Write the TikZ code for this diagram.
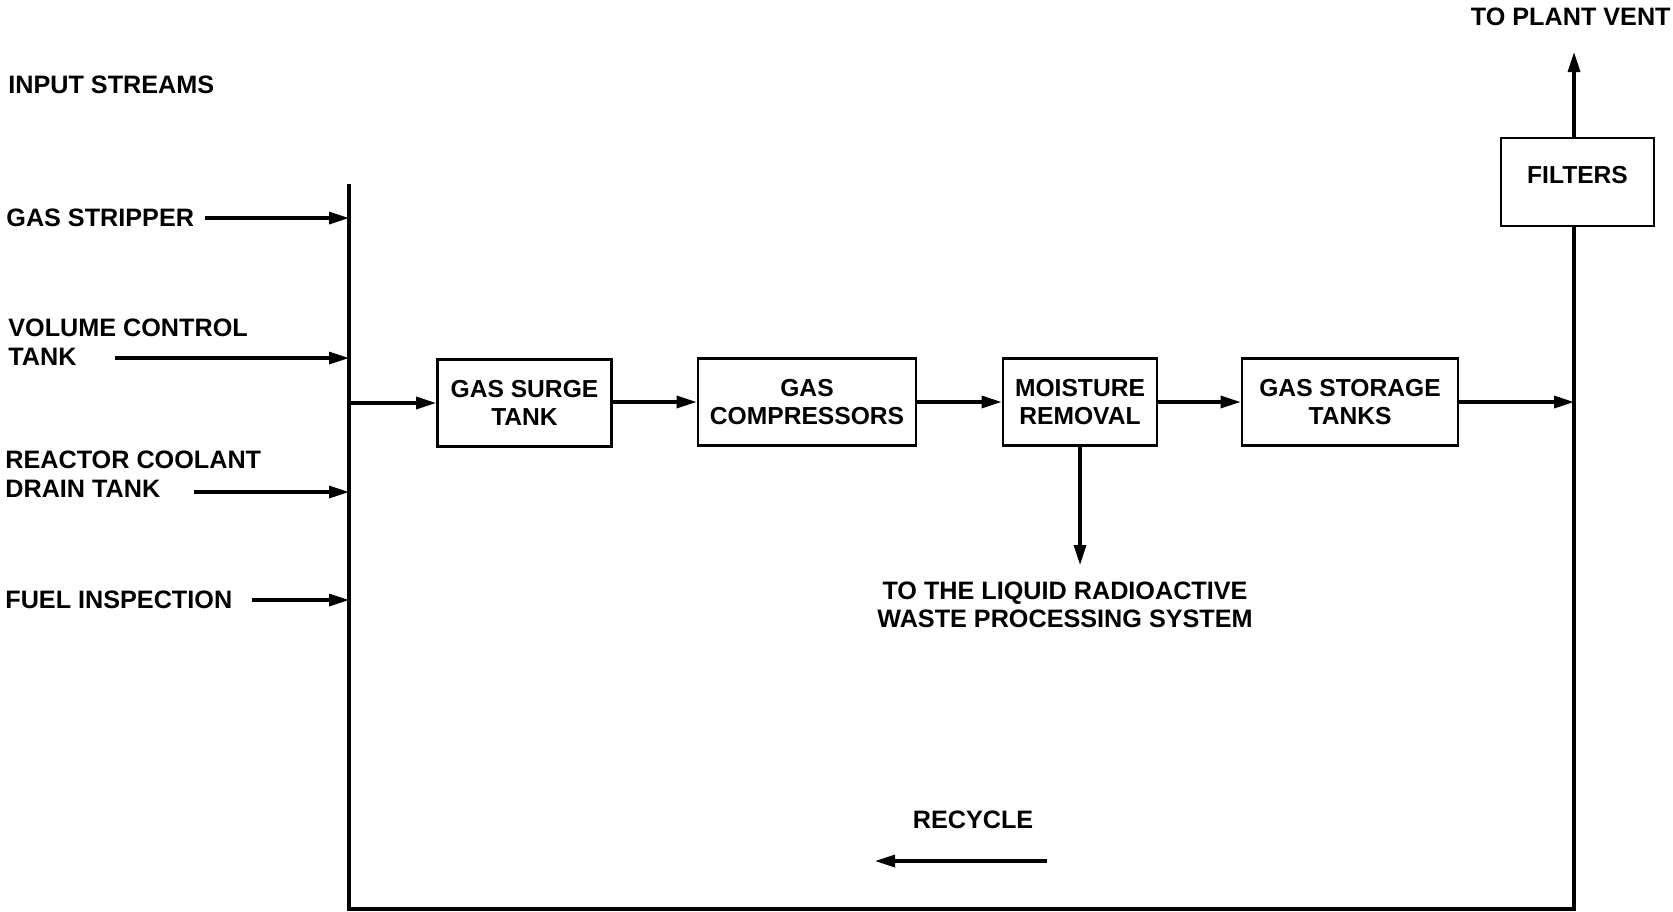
\documentclass[tikz,border=0pt]{standalone}
\usepackage{fontspec}
\setmainfont{Liberation Sans}
\usetikzlibrary{arrows.meta}
\tikzset{
  lbl/.style={inner sep=0pt, font=\bfseries\fontsize{12.6}{14.25}\selectfont},
  blk/.style={draw, line width=1.3pt, inner sep=0pt, align=center, font=\bfseries\fontsize{12.3}{14}\selectfont, minimum height=43.5pt},
  arr/.style={line width=1.6pt, -{Triangle[length=10pt,width=6pt]}},
  busline/.style={line width=2pt},
}
\begin{document}
\begin{tikzpicture}[x=0.5pt,y=-0.5pt]
\useasboundingbox (0,0) rectangle (1673,911);
% labels
\node[lbl, anchor=west] (inp) at (8,85) {INPUT STREAMS};
\node[lbl, anchor=west] (gs) at (6,218) {GAS STRIPPER};
\node[lbl, anchor=west, align=left] (vc) at (8,342) {VOLUME CONTROL\\TANK};
\node[lbl, anchor=west, align=left] (rc) at (5,474) {REACTOR COOLANT\\DRAIN TANK};
\node[lbl, anchor=west] (fi) at (5,600) {FUEL INSPECTION};
% arrow starts and bus joints
\coordinate (gsS) at (205,218);
\coordinate (vcS) at (115,358);
\coordinate (rcS) at (194,492);
\coordinate (fiS) at (252,600);
\coordinate (busT) at (349,184);
\coordinate (busB) at (349,909);
\coordinate (busM) at (349,403);
\coordinate (rB) at (1574,909);
% blocks
\node[blk, minimum width=87pt] (surge) at (524.5,403) {GAS SURGE\\TANK};
\node[blk, minimum width=109pt] (comp) at (807,402) {GAS\\COMPRESSORS};
\node[blk, minimum width=77pt] (moist) at (1080,402) {MOISTURE\\REMOVAL};
\node[blk, minimum width=108pt] (store) at (1350,402) {GAS STORAGE\\TANKS};
\node[blk, minimum width=76.5pt, minimum height=44pt] (filt) at (1577.5,182) {\raisebox{7pt}{FILTERS}};
\node[lbl, anchor=east] (vent) at (1671,17) {TO PLANT VENT};
\coordinate (ventT) at (1574,52);
\coordinate (waste) at (1080,565);
\node[lbl, align=center] (liq) at (1065,605) {TO THE LIQUID RADIOACTIVE\\WASTE PROCESSING SYSTEM};
\node[lbl] (rec) at (973,820) {RECYCLE};
\coordinate (recA) at (1047,861);
\coordinate (recB) at (875,861);
% bus and recycle loop
\draw[busline] (busT) -- (busB) -- (rB) -- (rB |- filt.south);
% input arrows
\draw[arr] (gsS) -- (gsS -| busT);
\draw[arr] (vcS) -- (vcS -| busT);
\draw[arr] (rcS) -- (rcS -| busT);
\draw[arr] (fiS) -- (fiS -| busT);
% main chain
\draw[arr] (busM) -- (surge.west |- busM);
\draw[arr] (surge.east |- comp.west) -- (comp.west);
\draw[arr] (comp.east) -- (moist.west);
\draw[arr] (moist.east) -- (store.west);
\draw[arr] (store.east) -- (rB |- store.east);
\draw[arr] (moist.south) -- (waste);
\draw[arr] (rB |- filt.north) -- (ventT);
\draw[arr] (recA) -- (recB);
\end{tikzpicture}
\end{document}
